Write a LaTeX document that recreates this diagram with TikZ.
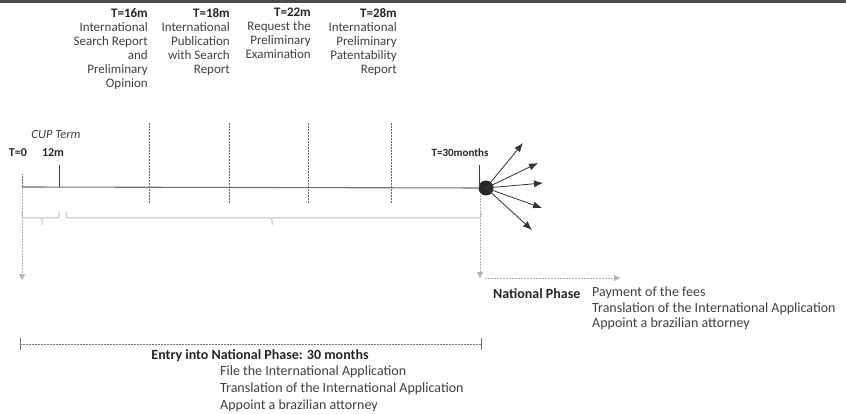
\documentclass[tikz,border=0pt]{standalone}
\usepackage{fontspec}
\setmainfont{Carlito}
\usetikzlibrary{arrows.meta,positioning}

\definecolor{txtgray}{HTML}{404040}
\definecolor{linegray}{HTML}{6F6F6F}
\definecolor{bracegray}{HTML}{BFBFBF}

\tikzset{
  lbl/.style={font=\fontsize{14}{17}\selectfont, text=txtgray, inner sep=0pt},
  hdr/.style={lbl, font=\fontsize{13}{14}\selectfont, align=right, anchor=north east},
  bold/.style={lbl, text=black!85},
  small/.style={bold, font=\fontsize{12}{14}\selectfont\bfseries},
  guide/.style={linegray, dashed, dash pattern=on 2pt off 1pt, line width=0.8pt},
  faint/.style={bracegray!80!gray, dashed, dash pattern=on 2pt off 1pt, line width=0.8pt},
  ray/.style={black!80, line width=0.8pt, -{Latex[length=9pt,width=7pt]}}
}

\begin{document}
\begin{tikzpicture}[x=1pt,y=-1pt]
    \useasboundingbox (0,0) rectangle (846,414);
    \fill[black!70] (0,0) rectangle (846,3);

    % milestones above the line
    \node[hdr] (h16) at (148,8) {\textbf{\color{black!85}T=16m}\\International\\Search Report\\and\\Preliminary\\Opinion};
    \node[hdr] (h18) at (230,8) {\textbf{\color{black!85}T=18m}\\International\\Publication\\with Search\\Report};
    \node[hdr] (h22) at (311,8) {\textbf{\color{black!85}T=22m}\\Request the\\Preliminary\\Examination};
    \node[hdr] (h28) at (397,8) {\textbf{\color{black!85}T=28m}\\International\\Preliminary\\Patentability\\Report};

    \foreach \x in {149,229,308,391}
        \draw[guide, black!60] (\x,123) -- (\x,203);

    % timeline
    \coordinate (t0) at (22,187);
    \node[circle, fill=black!85, minimum size=15pt, inner sep=0pt] (dot) at (486,188) {};
    \draw[linegray, line width=1.1pt] (t0) -- (dot);

    \node[lbl, font=\fontsize{12.5}{14}\selectfont\itshape] (cup) at (56,134) {CUP Term};
    \node[small] (lt0) at (18,153) {T=0};
    \node[small] (l12) at (53,153) {12m};
    \node[small, font=\fontsize{11}{14}\selectfont\bfseries] (l30) at (460,153) {T=30months};

    \coordinate (m12) at (59,187);
    \draw[black!75, line width=0.8pt] (m12) -- ++(0,-22);
    \draw[black!75, line width=0.8pt] (479,187) -- ++(0,-22);
    \draw[guide] (t0) -- ++(0,-13);

    % braces
    \foreach \a/\m/\b in {22/42/59, 66/272/481}
        \draw[bracegray, line width=1pt, rounded corners=2pt]
            (\a,212) -- (\a,218) -- (\m,218) -- (\m,225)
            (\m,218) -- (\b,218) -- (\b,212);

    % rays from the dot
    \foreach \ex/\ey [count=\i] in {523/143, 538/163, 543/183, 542/208, 532/230}
    {
        \coordinate (r\i) at (\ex,\ey);
        \draw[ray] (dot.center) -- (r\i);
    }

    % down arrows
    \coordinate (d0) at (22,280);
    \coordinate (d30) at (480,278);
    \coordinate (np) at (620,278);
    \draw[faint, -{Triangle[length=6pt,width=6pt]}] (t0) -- (d0);
    \draw[faint, -{Triangle[length=6pt,width=6pt]}] (480,195) -- (d30);
    \draw[faint, -{Triangle[length=6pt,width=6pt]}] (485,278) -- (np);

    % national phase
    \node[bold, anchor=west, font=\fontsize{14}{18}\selectfont\bfseries] (nat) at (493,294) {National Phase};
    \node[lbl, anchor=north west, align=left, font=\fontsize{14}{15.5}\selectfont] (natl) at (592,287)
        {Payment of the fees\\Translation of the International Application\\Appoint a brazilian attorney};

    % entry span
    \coordinate (e0) at (20,344);
    \coordinate (e1) at (481,344);
    \draw[guide, black!55] (e0) -- (e1);
    \draw[black!55, line width=0.8pt] (20,338) -- (20,350) (481,338) -- (481,350);
    \node[bold, font=\fontsize{14}{18}\selectfont\bfseries] (entry) at (260,356) {Entry into National Phase: 30 months};
    \node[lbl, anchor=north west, align=left] (entryl) at (220,366)
        {File the International Application\\Translation of the International Application\\Appoint a brazilian attorney};
\end{tikzpicture}
\end{document}
